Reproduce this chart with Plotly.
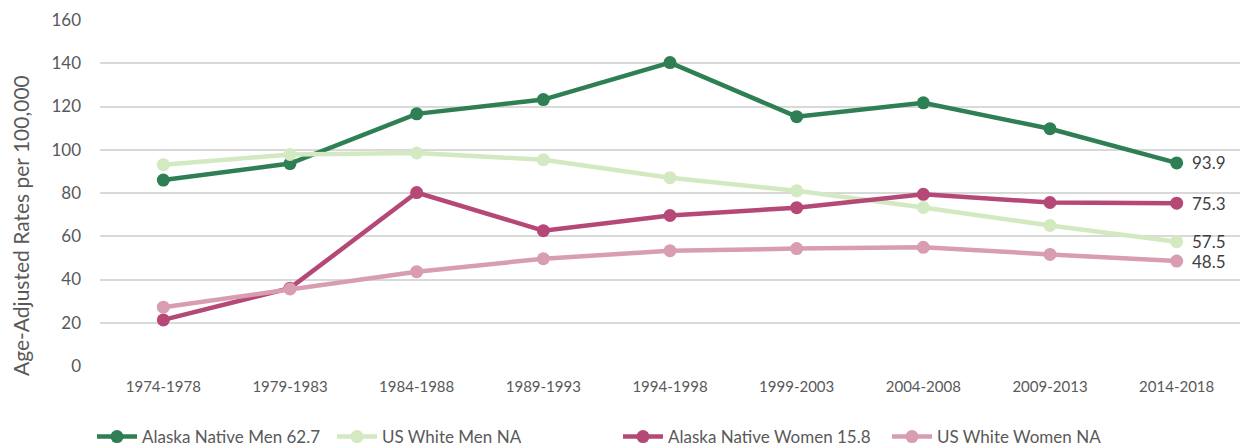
import plotly.graph_objects as go

periods = ["1974-1978", "1979-1983", "1984-1988", "1989-1993", "1994-1998",
           "1999-2003", "2004-2008", "2009-2013", "2014-2018"]
an_men = [86.0, 93.6, 116.6, 123.2, 140.3, 115.3, 121.7, 109.7, 93.9]
us_white_men = [93.1, 97.8, 98.5, 95.4, 87.1, 81.0, 73.3, 65.0, 57.5]
an_women = [21.3, 36.0, 80.2, 62.6, 69.6, 73.2, 79.4, 75.6, 75.3]
us_white_women = [27.2, 35.6, 43.6, 49.6, 53.3, 54.3, 54.9, 51.6, 48.5]

series = [
    ("Alaska Native Men 62.7", an_men, "#2F7F55"),
    ("US White Men NA", us_white_men, "#D3E9C1"),
    ("Alaska Native Women 15.8", an_women, "#B54877"),
    ("US White Women NA", us_white_women, "#D99DB1"),
]
legend_x = [92, 332, 618, 887]

FONT = "Lato, 'Open Sans', sans-serif"
W, H = 1243, 446
ML, MR, MT, MB = 100, 3, 20, 80
fig = go.Figure()
legends = {}
for i, (name, vals, col) in enumerate(series):
    lg = "legend" if i == 0 else f"legend{i+1}"
    fig.add_trace(go.Scatter(
        x=periods, y=vals, name=name, mode="lines+markers",
        line=dict(color=col, width=4.5),
        marker=dict(color=col, size=13),
        legend=lg,
    ))
    fig.add_annotation(x=periods[-1], y=vals[-1], text=f"{vals[-1]:.1f}",
                       showarrow=False, xanchor="left", xshift=13,
                       font=dict(size=17, color="#404040", family=FONT))
    legends[lg] = dict(orientation="h", x=legend_x[i] / W, xref="container",
                       xanchor="left", y=(H - 437) / H, yref="container",
                       yanchor="middle", font=dict(size=17, color="#595959"),
                       itemwidth=40, bgcolor="rgba(0,0,0,0)",
                       borderwidth=0)

pw, ph = W - ML - MR, H - MT - MB
fig.add_annotation(xref="paper", yref="paper", x=(20 - ML) / pw,
                   y=(H - MB - 226) / ph, text="Age-Adjusted Rates per 100,000",
                   textangle=-90, showarrow=False, xanchor="center", yanchor="middle",
                   font=dict(size=21, color="#595959", family=FONT))

fig.update_layout(
    width=W, height=H,
    margin=dict(l=ML, r=MR, t=MT, b=MB, autoexpand=False),
    plot_bgcolor="white", paper_bgcolor="white",
    font=dict(family=FONT, color="#595959", size=15),
    showlegend=True,
    xaxis=dict(type="category", range=[-0.5, 8.5], showgrid=False,
               showline=False, ticks="", tickfont=dict(size=15),
               ticklabelstandoff=10, automargin=False),
    yaxis=dict(range=[0, 160], dtick=20, showgrid=True, gridcolor="#D9D9D9",
               gridwidth=2, zeroline=False, showline=False,
               tickfont=dict(size=17), ticklabelstandoff=18, automargin=False),
    **legends,
)
fig.write_html("out.html", config={"displayModeBar": False},
               post_script="document.body.style.margin='0';document.body.style.overflow='hidden';")
